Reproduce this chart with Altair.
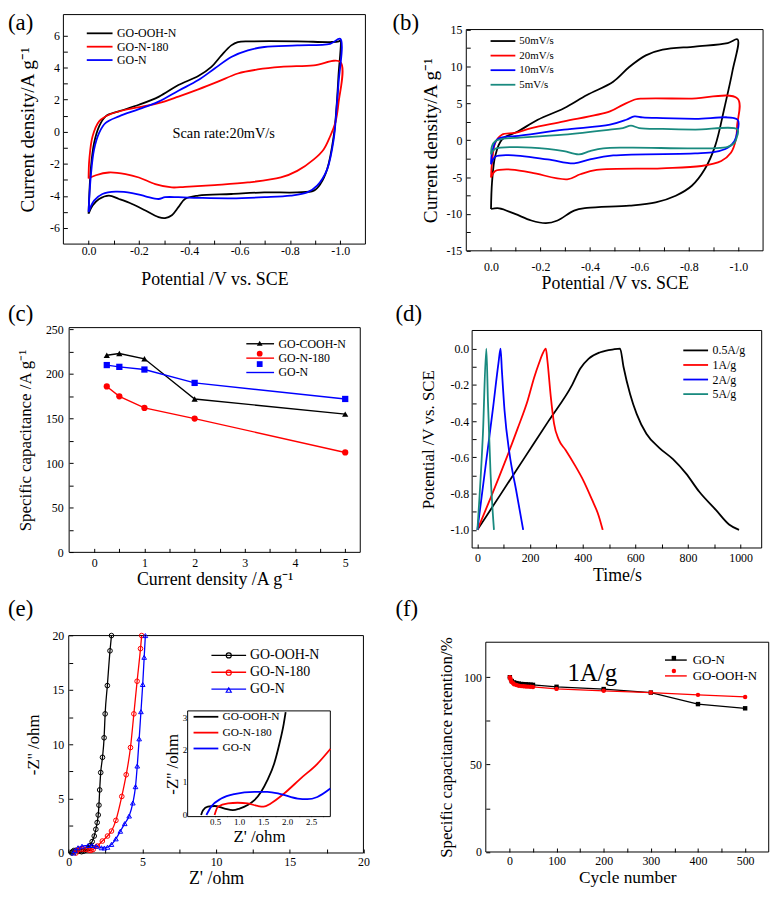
import math
import altair as alt
import pandas as pd

FONT = "Liberation Serif"
CW, CH = 769, 882
TICK = 4
BLACK, RED, BLUE, TEAL = "#000000", "#ff0000", "#0000ff", "#198a7f"

# ======================= data =======================
# (a) CV at 20 mV/s, potential (V vs SCE) / current density (A/g), traced round each loop
a_names = ["GO-OOH-N", "GO-N-180", "GO-N"]
a_ooh_v = [0.0, -0.009, -0.022, -0.042, -0.068, -0.12, -0.2, -0.28, -0.357, -0.436, -0.488, -0.528, -0.567, -0.593, -0.646, -0.83, -0.96, -0.994, -1.0,
           -0.993, -0.985, -0.974, -0.948, -0.921, -0.895, -0.829, -0.698, -0.567, -0.436, -0.383, -0.357, -0.331, -0.304, -0.278, -0.226, -0.173, -0.121, -0.081, -0.042, -0.016, 0.0]
a_ooh_i = [-5.11, -2.3, -0.7, 0.34, 0.96, 1.27, 1.68, 2.19, 2.91, 3.47, 4.04, 4.76, 5.38, 5.59, 5.63, 5.63, 5.59, 5.63, 5.69,
           3.5, 1.5, -0.28, -2.34, -3.26, -3.67, -3.78, -3.78, -3.88, -3.98, -4.19, -4.7, -5.2, -5.38, -5.32, -4.91, -4.5, -4.19, -3.98, -4.19, -4.6, -5.11]
a_n180_v = [0.0, -0.003, -0.016, -0.042, -0.081, -0.147, -0.213, -0.278, -0.357, -0.436, -0.514, -0.593, -0.672, -0.764, -0.895, -1.0,
            -0.993, -0.98, -0.96, -0.934, -0.895, -0.829, -0.764, -0.633, -0.501, -0.383, -0.331, -0.265, -0.2, -0.147, -0.081, -0.029, 0.0]
a_n180_i = [-2.91, -1.72, -0.28, 0.65, 1.06, 1.37, 1.57, 1.78, 2.19, 2.64, 3.12, 3.63, 3.88, 4.04, 4.14, 4.35,
            1.78, 0.54, -0.28, -1.1, -1.72, -2.44, -2.85, -3.16, -3.32, -3.43, -3.47, -3.26, -2.85, -2.64, -2.54, -2.71, -2.91]
a_n_v = [0.0, -0.009, -0.022, -0.042, -0.068, -0.121, -0.2, -0.278, -0.357, -0.436, -0.501, -0.567, -0.633, -0.698, -0.829, -0.96, -1.0,
         -0.993, -0.987, -0.974, -0.948, -0.908, -0.869, -0.803, -0.698, -0.567, -0.436, -0.357, -0.304, -0.278, -0.226, -0.173, -0.108, -0.055, -0.022, 0.0]
a_n_i = [-4.97, -2.75, -1.1, -0.07, 0.55, 0.96, 1.41, 1.88, 2.56, 3.22, 3.94, 4.66, 5.07, 5.28, 5.38, 5.48, 5.79,
         3.0, 1.78, -0.48, -2.34, -3.36, -3.78, -3.98, -4.08, -4.15, -4.12, -4.08, -4.08, -4.19, -4.02, -3.82, -3.73, -3.88, -4.29, -5.01]
a_note_text = ["Scan rate:20mV/s"]
a_note_v = [-0.537]
a_note_i = [-0.17]

# (b) CV of GO-OOH-N at several scan rates
b_names = ["50mV/s", "20mV/s", "10mV/s", "5mV/s"]
b_50_v = [0.0, -0.004, -0.017, -0.044, -0.11, -0.189, -0.295, -0.388, -0.494, -0.56, -0.626, -0.694, -0.825, -0.957, -0.997,
          -0.977, -0.945, -0.906, -0.864, -0.812, -0.747, -0.666, -0.56, -0.388, -0.336, -0.269, -0.222, -0.163, -0.097, -0.033, 0.0]
b_50_i = [-9.33, -5.74, -2.15, 0.08, 1.21, 2.77, 4.34, 6.13, 7.93, 9.95, 11.5, 12.27, 12.7, 13.17, 13.66,
          9.49, 4.57, -0.81, -3.95, -6.18, -7.53, -8.43, -8.87, -9.19, -9.54, -10.89, -11.25, -10.89, -10.0, -9.24, -9.33]
b_20_v = [0.0, -0.004, -0.017, -0.044, -0.097, -0.163, -0.295, -0.481, -0.533, -0.586, -0.613, -0.8, -0.997,
          -0.995, -0.99, -0.97, -0.931, -0.851, -0.69, -0.427, -0.361, -0.308, -0.163, -0.07, -0.017, 0.0]
b_20_i = [-5.07, -3.05, -0.36, 0.75, 0.98, 1.65, 2.55, 3.9, 4.79, 5.55, 5.64, 5.64, 5.64,
          2.0, 0.08, -1.71, -2.82, -3.5, -3.81, -4.03, -4.62, -5.3, -4.4, -3.95, -4.17, -5.07]
b_10_v = [0.0, -0.004, -0.024, -0.057, -0.097, -0.295, -0.481, -0.547, -0.58, -0.613, -0.694, -0.825, -0.997,
          -0.995, -0.984, -0.957, -0.905, -0.825, -0.494, -0.4, -0.336, -0.229, -0.07, -0.017, 0.0]
b_10_i = [-3.28, -1.71, 0.08, 0.45, 0.54, 1.43, 2.1, 2.77, 3.22, 3.09, 3.0, 2.9, 2.77,
          1.0, -0.14, -1.03, -1.6, -1.8, -2.07, -2.6, -3.14, -2.6, -2.02, -2.25, -3.28]
b_5_v = [0.0, -0.004, -0.017, -0.05, -0.097, -0.295, -0.481, -0.533, -0.566, -0.599, -0.694, -0.825, -0.997,
         -0.993, -0.984, -0.957, -0.56, -0.454, -0.4, -0.355, -0.295, -0.229, -0.097, -0.017, 0.0]
b_5_i = [-1.93, -0.8, -0.14, 0.2, 0.31, 0.76, 1.43, 1.65, 1.96, 1.65, 1.52, 1.43, 1.43,
         0.3, -0.36, -0.9, -1.0, -1.1, -1.48, -1.93, -1.48, -1.17, -0.94, -1.17, -1.93]

# (c) specific capacitance vs current density
c_names = ["GO-COOH-N", "GO-N-180", "GO-N"]
c_density = [0.25, 0.5, 1, 2, 5]
c_cooh = [221, 223, 217, 172, 155]
c_n180 = [186, 175, 162, 150, 112]
c_n = [210, 208, 205, 190, 172]

# (d) galvanostatic charge / discharge
d_names = ["0.5A/g", "1A/g", "2A/g", "5A/g"]
d_05_t = [0, 90, 180, 270, 360, 391, 423, 467, 517, 542, 555, 580, 605, 642, 693, 743, 793, 843, 906, 956, 994]
d_05_v = [-1.0, -0.80, -0.60, -0.40, -0.20, -0.11, -0.055, -0.02, -0.004, 0.0, -0.10, -0.25, -0.36, -0.47, -0.55, -0.61, -0.69, -0.79, -0.89, -0.97, -1.0]
d_1_t = [0, 53, 103, 153, 191, 216, 235, 247, 260, 266, 279, 291, 310, 335, 373, 404, 435, 461, 476]
d_1_v = [-1.0, -0.814, -0.632, -0.44, -0.286, -0.158, -0.077, -0.031, 0.0, -0.067, -0.268, -0.413, -0.505, -0.559, -0.65, -0.732, -0.832, -0.923, -1.0]
d_2_t = [0, 30, 60, 80, 88, 93, 103, 122, 147, 174]
d_2_v = [-1.0, -0.66, -0.32, -0.08, 0.0, -0.12, -0.34, -0.58, -0.78, -1.0]
d_5_t = [0, 21, 34, 40, 50, 63]
d_5_v = [-1.0, -0.47, 0.0, -0.29, -0.69, -1.0]

# (e) Nyquist plots, main and inset
e_names = ["GO-OOH-N", "GO-N-180", "GO-N"]
e_ooh_x = [0.21, 0.25, 0.35, 0.49, 0.70, 0.87, 1.01, 1.18, 1.32, 1.46, 1.59, 1.73, 1.84, 1.93, 2.0, 2.05, 2.1, 2.17, 2.29, 2.4, 2.47, 2.62, 2.8, 2.9]
e_ooh_y = [0.0, 0.12, 0.23, 0.25, 0.17, 0.12, 0.17, 0.28, 0.43, 0.69, 1.05, 1.56, 2.18, 2.8, 3.5, 4.4, 5.8, 7.4, 8.8, 10.6, 12.8, 15.4, 18.6, 20.0]
e_n180_x = [0.49, 0.56, 0.77, 0.97, 1.18, 1.39, 1.51, 1.66, 1.94, 2.28, 2.63, 2.9, 3.2, 3.6, 3.9, 4.19, 4.42, 4.64, 4.87, 4.95]
e_n180_y = [0.0, 0.23, 0.33, 0.35, 0.33, 0.25, 0.23, 0.33, 0.64, 1.10, 1.56, 2.02, 3.0, 5.2, 7.2, 9.7, 12.8, 15.8, 18.8, 20.0]
e_n_x = [0.32, 0.42, 0.63, 0.90, 1.32, 1.59, 1.87, 2.22, 2.42, 2.63, 2.9, 3.2, 3.5, 3.8, 4.1, 4.35, 4.53, 4.65, 4.78, 4.9, 5.02, 5.12, 5.2]
e_n_y = [0.0, 0.23, 0.48, 0.62, 0.69, 0.69, 0.62, 0.48, 0.46, 0.53, 0.79, 1.3, 2.0, 2.7, 3.4, 4.6, 6.1, 8.0, 10.5, 13.0, 15.5, 18.0, 20.0]
ei_ooh_x = [0.21, 0.25, 0.35, 0.49, 0.70, 0.87, 1.01, 1.18, 1.32, 1.46, 1.59, 1.73, 1.84, 1.93, 1.97]
ei_ooh_y = [-0.03, 0.12, 0.23, 0.25, 0.17, 0.12, 0.17, 0.28, 0.43, 0.69, 1.05, 1.56, 2.18, 2.8, 3.16]
ei_n180_x = [0.49, 0.56, 0.77, 0.97, 1.18, 1.39, 1.51, 1.66, 1.94, 2.28, 2.63, 2.9]
ei_n180_y = [-0.03, 0.23, 0.33, 0.35, 0.33, 0.25, 0.23, 0.33, 0.64, 1.10, 1.56, 2.02]
ei_n_x = [0.32, 0.42, 0.63, 0.90, 1.32, 1.59, 1.87, 2.22, 2.42, 2.63, 2.9]
ei_n_y = [-0.03, 0.23, 0.48, 0.62, 0.69, 0.69, 0.62, 0.48, 0.46, 0.53, 0.79]

# (f) cycling stability at 1 A/g
f_names = ["GO-N", "GO-OOH-N"]
f_goN_cyc = [1, 5, 10, 15, 20, 25, 30, 35, 40, 45, 50, 100, 200, 300, 400, 500]
f_goN_ret = [100, 97.8, 97, 96.6, 96.3, 96.1, 96, 95.9, 95.8, 95.7, 95.6, 94.5, 93.2, 91.2, 84.6, 82.2]
f_ooh_cyc = [1, 2, 3, 5, 8, 10, 15, 20, 25, 30, 35, 40, 45, 50, 100, 200, 300, 400, 500]
f_ooh_ret = [100, 99.2, 98.4, 97.3, 96.5, 96, 95.5, 95.1, 94.9, 94.8, 94.7, 94.6, 94.5, 94.4, 93.3, 92.2, 91.2, 89.9, 88.7]
f_note_text = ["1A/g"]
f_note_x = [176]
f_note_y = [102.4]

# tick values and labels
a_xticks = [0.0, -0.1, -0.2, -0.3, -0.4, -0.5, -0.6, -0.7, -0.8, -0.9, -1.0]
a_xmaj = [0.0, -0.2, -0.4, -0.6, -0.8, -1.0]
a_xlab = ["0.0", "-0.2", "-0.4", "-0.6", "-0.8", "-1.0"]
a_yticks = [-6, -5, -4, -3, -2, -1, 0, 1, 2, 3, 4, 5, 6]
a_ymaj = [-6, -4, -2, 0, 2, 4, 6]
a_ylab = ["-6", "-4", "-2", "0", "2", "4", "6"]
b_yticks = [-15, -12.5, -10, -7.5, -5, -2.5, 0, 2.5, 5, 7.5, 10, 12.5, 15]
b_ymaj = [-15, -10, -5, 0, 5, 10, 15]
b_ylab = ["-15", "-10", "-5", "0", "5", "10", "15"]
c_xticks = [0, 0.5, 1, 1.5, 2, 2.5, 3, 3.5, 4, 4.5, 5]
c_xmaj = [0, 1, 2, 3, 4, 5]
c_xlab = ["0", "1", "2", "3", "4", "5"]
c_yticks = [0, 25, 50, 75, 100, 125, 150, 175, 200, 225, 250]
c_ymaj = [0, 50, 100, 150, 200, 250]
c_ylab = ["0", "50", "100", "150", "200", "250"]
d_xticks = [0, 100, 200, 300, 400, 500, 600, 700, 800, 900, 1000]
d_xmaj = [0, 200, 400, 600, 800, 1000]
d_xlab = ["0", "200", "400", "600", "800", "1000"]
d_yticks = [0.0, -0.1, -0.2, -0.3, -0.4, -0.5, -0.6, -0.7, -0.8, -0.9, -1.0]
d_ymaj = [0.0, -0.2, -0.4, -0.6, -0.8, -1.0]
d_ylab = ["0.0", "-0.2", "-0.4", "-0.6", "-0.8", "-1.0"]
e_ticks = [0, 2.5, 5, 7.5, 10, 12.5, 15, 17.5, 20]
e_maj = [0, 5, 10, 15, 20]
e_lab = ["0", "5", "10", "15", "20"]
ei_xticks = [0.5, 0.75, 1.0, 1.25, 1.5, 1.75, 2.0, 2.25, 2.5, 2.75]
ei_xmaj = [0.5, 1.0, 1.5, 2.0, 2.5]
ei_xlab = ["0.5", "1.0", "1.5", "2.0", "2.5"]
ei_yticks = [0, 0.5, 1, 1.5, 2, 2.5, 3]
ei_ymaj = [0, 1, 2, 3]
ei_ylab = ["0", "1", "2", "3"]
f_xticks = [0, 50, 100, 150, 200, 250, 300, 350, 400, 450, 500]
f_xmaj = [0, 100, 200, 300, 400, 500]
f_xlab = ["0", "100", "200", "300", "400", "500"]
f_yticks = [0, 25, 50, 75, 100]
f_ymaj = [0, 50, 100]
f_ylab = ["0", "50", "100"]

# ======================= layout (pixels) =======================
# panel boxes: left, right, top, bottom
BOX = {
    "a": (55.9, 360.7, 2.6, 234.2),
    "b": (462.5, 762.0, 17.7, 241.0),
    "c": (61.7, 355.5, 318.5, 545.3),
    "d": (468.4, 760.6, 321.4, 540.9),
    "e": (61.3, 358.7, 629.3, 848.7),
    "ei": (181.3, 325.3, 705.3, 812.0),
    "f": (482.2, 767.7, 636.0, 847.7),
}
DOM = {
    "a": ([-1.1, 0.1], [-7, 7.3]),
    "b": ([-1.1, 0.1], [-15, 15]),
    "c": ([-0.5, 5.3], [0, 252]),
    "d": ([-20, 1080], [-1.1, 0.1]),
    "e": ([0, 20], [0, 20]),
    "ei": ([-0.07, 2.9], [-0.08, 3.2]),
    "f": ([-50, 550], [0, 120]),
}
letters = ["(a)", "(b)", "(c)", "(d)", "(e)", "(f)"]
letters_px = [0, 388, 0, 391, 0, 391]
letters_py = [18, 18, 312, 312, 610, 610]


# ======================= helpers =======================
def lab_expr(majors, labels):
    expr = "''"
    for v, l in zip(reversed(majors), reversed(labels)):
        expr = f"abs(datum.value - ({v})) < 1e-6 ? '{l}' : {expr}"
    return expr


def ax_common(values, majors, labels, title, lp, tp, tfs, lfs, tick):
    return dict(values=values, tickSize=tick, tickColor="black", tickWidth=1, domain=False, grid=False,
                labelExpr=lab_expr(majors, labels), labelFont=FONT, labelFontSize=lfs, labelColor="black",
                labelPadding=lp, labelFlush=False, labelOverlap=False, title=title, titleFont=FONT,
                titleFontSize=tfs, titleFontWeight="normal", titleColor="black", titlePadding=tp)


def xaxis(p, values, majors, labels, title, lp, tp, tfs=18, lfs=12, tick=TICK):
    return alt.Axis(orient="bottom", offset=BOX[p][3] - CH - tick,
                    **ax_common(values, majors, labels, title, lp, tp, tfs, lfs, tick))


def yaxis(p, values, majors, labels, title, lp, tp, tfs=18, lfs=12, tick=TICK):
    return alt.Axis(orient="left", offset=-(BOX[p][0] + tick),
                    **ax_common(values, majors, labels, title, lp, tp, tfs, lfs, tick))


def xs(p, rev=False):
    b = BOX[p]
    rng = [b[1], b[0]] if rev else [b[0], b[1]]
    return alt.Scale(domain=DOM[p][0], range=rng, nice=False, zero=False)


def ys(p):
    b = BOX[p]
    return alt.Scale(domain=DOM[p][1], range=[b[3], b[2]], nice=False, zero=False)


LEG_PATH = "M-3,0H3"   # a flat stroke three times as long as the nominal symbol size


def legend(x_left, first_row, L, fs, spacing, sw=1.8):
    nominal = L / 3.0
    size = math.ceil(nominal + sw)
    row_h = max(fs, size / 2 + fs / 2)
    return alt.Legend(orient="none", legendX=x_left + L / 2 - size / 2, legendY=first_row - size / 2 - 1,
                      title=None, symbolType=LEG_PATH, symbolSize=nominal * nominal, symbolStrokeWidth=sw,
                      labelFont=FONT, labelFontSize=fs, labelColor="black",
                      labelOffset=L / 2 - size / 2 + 4, rowPadding=max(0, spacing - row_h), padding=0)


def marker_legend(x_left, first_row, L, spacing, msize, sw, row_h):
    # markers only (empty labels), centred on the middle of the line symbols
    size = math.ceil(math.sqrt(msize) + sw)
    return alt.Legend(orient="none", legendX=x_left + L / 2 - size / 2, legendY=first_row - size / 2 - 1,
                      title=None, symbolSize=msize, symbolStrokeWidth=sw, labelExpr="''", labelFontSize=1,
                      labelOffset=0, rowPadding=max(0, spacing - row_h), padding=0)


def long_df(names, xl, yl):
    rows = []
    for n, xv, yv in zip(names, xl, yl):
        assert len(xv) == len(yv), n
        for k, (a, b) in enumerate(zip(xv, yv)):
            rows.append({"s": n, "i": k, "x": a, "y": b})
    return pd.DataFrame(rows)


def frame(p, rev=False, fill="transparent"):
    d = pd.DataFrame({"x1": [DOM[p][0][0]], "x2": [DOM[p][0][1]], "y1": [DOM[p][1][0]], "y2": [DOM[p][1][1]]})
    return alt.Chart(d).mark_rect(fill=fill, stroke="black", strokeWidth=1).encode(
        x=alt.X("x1:Q", scale=xs(p, rev)), x2="x2:Q",
        y=alt.Y("y1:Q", scale=ys(p)), y2="y2:Q")


def lines(p, df, names, colors, leg, xa, ya, interp="linear", sw=1.5, rev=False):
    return alt.Chart(df).mark_line(interpolate=interp, strokeWidth=sw).encode(
        x=alt.X("x:Q", scale=xs(p, rev), axis=xa),
        y=alt.Y("y:Q", scale=ys(p), axis=ya),
        color=alt.Color("s:N", scale=alt.Scale(domain=names, range=colors), legend=leg),
        order=alt.Order("i:Q"))


def points(p, df, names, colors, shapes, size, filled, sw=1.0):
    layers = []
    for n, c, s in zip(names, colors, shapes):
        layers.append(
            alt.Chart(df).transform_filter(alt.datum.s == n).mark_point(
                filled=filled, size=size, opacity=1, strokeWidth=sw, shape=s, color=c).encode(
                x=alt.X("x:Q", scale=xs(p)), y=alt.Y("y:Q", scale=ys(p))))
    return layers


def legend_markers(p, df, names, colors, shapes, leg_args, filled):
    leg = marker_legend(*leg_args)
    keys = [n + " " for n in names]   # own domain, so this legend stays apart from the line legend
    paint = alt.Fill if filled else alt.Stroke
    return alt.Chart(df).transform_filter("false").mark_point(filled=filled, opacity=1).encode(
        x=alt.X("x:Q", scale=xs(p)), y=alt.Y("y:Q", scale=ys(p)),
        **{"fill" if filled else "stroke": paint("s:N", scale=alt.Scale(domain=keys, range=colors), legend=leg)},
        shape=alt.Shape("s:N", scale=alt.Scale(domain=keys, range=shapes), legend=leg))


def note(p, texts, xv, yv, fs, rev=False):
    d = pd.DataFrame({"t": texts, "x": xv, "y": yv})
    return alt.Chart(d).mark_text(font=FONT, fontSize=fs, color="black", align="center", baseline="middle").encode(
        x=alt.X("x:Q", scale=xs(p, rev)), y=alt.Y("y:Q", scale=ys(p)), text="t:N")


CUR = "Current density/A g\u207b\u00b9"
POT = "Potential /V vs. SCE"

# ----- (a)
a_df = long_df(a_names, [a_ooh_v, a_n180_v, a_n_v], [a_ooh_i, a_n180_i, a_n_i])
panel_a = alt.layer(
    lines("a", a_df, a_names, [BLACK, RED, BLUE], legend(79, 22, 26, 12, 13.5),
          xaxis("a", a_xticks, a_xmaj, a_xlab, POT, 2, 14),
          yaxis("a", a_yticks, a_ymaj, a_ylab, CUR, 4, 12, tfs=19.5),
          interp="catmull-rom", sw=1.8, rev=True),
    frame("a", rev=True),
    note("a", a_note_text, a_note_v, a_note_i, 14.5, rev=True),
)

# ----- (b)
b_df = long_df(b_names, [b_50_v, b_20_v, b_10_v, b_5_v], [b_50_i, b_20_i, b_10_i, b_5_i])
panel_b = alt.layer(
    lines("b", b_df, b_names, [BLACK, RED, BLUE, TEAL], legend(487, 30.3, 25, 11, 13.7),
          xaxis("b", a_xticks, a_xmaj, a_xlab, POT, 11, 2),
          yaxis("b", b_yticks, b_ymaj, b_ylab, CUR, 4.5, 6, tfs=19.5),
          interp="catmull-rom", sw=1.8, rev=True),
    frame("b", rev=True),
)

# ----- (c)
c_df = long_df(c_names, [c_density] * 3, [c_cooh, c_n180, c_n])
c_shapes = ["triangle-up", "circle", "square"]
panel_c = alt.layer(
    lines("c", c_df, c_names, [BLACK, RED, BLUE], legend(240, 335.3, 28, 12, 14.5, sw=1.4),
          xaxis("c", c_xticks, c_xmaj, c_xlab, "Current density /A g\u207b\u00b9", 5, 2),
          yaxis("c", c_yticks, c_ymaj, c_ylab, "Specific capacitance /A g\u207b\u00b9", 6, 11, tfs=17),
          sw=1.4),
    frame("c"),
    *points("c", c_df, c_names, [BLACK, RED, BLUE], c_shapes, 40, True),
    legend_markers("c", c_df, c_names, [BLACK, RED, BLUE], c_shapes, (240, 335.3, 28, 14.5, 34, 0, 10), True),
)

# ----- (d)
d_df = long_df(d_names, [d_05_t, d_1_t, d_2_t, d_5_t], [d_05_v, d_1_v, d_2_v, d_5_v])
panel_d = alt.layer(
    lines("d", d_df, d_names, [BLACK, RED, BLUE, TEAL], legend(681, 342, 25, 12, 14.7),
          xaxis("d", d_xticks, d_xmaj, d_xlab, "Time/s", 5, 3),
          yaxis("d", d_yticks, d_ymaj, d_ylab, POT, 3.4, 13, tfs=17),
          interp="monotone", sw=1.8),
    frame("d"),
)

# ----- (e)
e_df = long_df(e_names, [e_ooh_x, e_n180_x, e_n_x], [e_ooh_y, e_n180_y, e_n_y])
ei_df = long_df(e_names, [ei_ooh_x, ei_n180_x, ei_n_x], [ei_ooh_y, ei_n180_y, ei_n_y])
e_shapes = ["circle", "circle", "triangle-up"]
e_main = alt.layer(
    lines("e", e_df, e_names, [BLACK, RED, BLUE], legend(205.3, 650.3, 35, 14, 17, sw=1.4),
          xaxis("e", e_ticks, e_maj, e_lab, "Z' /ohm", 4, 2),
          yaxis("e", e_ticks, e_maj, e_lab, "-Z'' /ohm", 5, 10, tfs=17),
          interp="monotone", sw=1.3),
    frame("e"),
    *points("e", e_df, e_names, [BLACK, RED, BLUE], e_shapes, 22, False),
    legend_markers("e", e_df, e_names, [BLACK, RED, BLUE], e_shapes, (205.3, 650.3, 35, 17, 26, 1.2, 10.5), False),
)
e_inset = alt.layer(
    frame("ei", fill="white"),
    lines("ei", ei_df, e_names, [BLACK, RED, BLUE], legend(187, 712, 25, 11.5, 14.5),
          xaxis("ei", ei_xticks, ei_xmaj, ei_xlab, "Z' /ohm", 1, 2, tfs=17, lfs=9, tick=3),
          yaxis("ei", ei_yticks, ei_ymaj, ei_ylab, "-Z'' /ohm", 1, 1, tfs=17, lfs=9, tick=3),
          interp="monotone", sw=1.8),
)
panel_e = alt.layer(e_main, e_inset).resolve_scale(x="independent", y="independent", color="independent",
                                                   stroke="independent", shape="independent")

# ----- (f)
f_df = long_df(f_names, [f_goN_cyc, f_ooh_cyc], [f_goN_ret, f_ooh_ret])
f_shapes = ["square", "circle"]
panel_f = alt.layer(
    lines("f", f_df, f_names, [BLACK, RED], legend(661, 653, 22, 13, 15, sw=1.4),
          xaxis("f", f_xticks, f_xmaj, f_xlab, "Cycle number", 4, 2, tfs=17.5),
          yaxis("f", f_yticks, f_ymaj, f_ylab, "Specific capacitance retention/%", 4.5, 8.5, tfs=17),
          sw=1.3),
    frame("f"),
    *points("f", f_df, f_names, [BLACK, RED], f_shapes, 20, True),
    legend_markers("f", f_df, f_names, [BLACK, RED], f_shapes, (661, 653, 22, 15, 20, 0, 7), True),
    note("f", f_note_text, f_note_x, f_note_y, 25),
)

# ----- panel letters
lt_df = pd.DataFrame({"t": letters, "px": letters_px, "py": letters_py})
letter_layer = alt.Chart(lt_df).mark_text(font=FONT, fontSize=23, color="black", align="left",
                                          baseline="alphabetic").encode(
    x=alt.X("px:Q", scale=None), y=alt.Y("py:Q", scale=None), text="t:N")

chart = alt.layer(panel_a, panel_b, panel_c, panel_d, panel_e, panel_f, letter_layer).resolve_scale(
    x="independent", y="independent", color="independent", fill="independent",
    stroke="independent", shape="independent"
).properties(
    width=CW, height=CH, padding=0, autosize=alt.AutoSizeParams(type="none"), background="white"
).configure_view(stroke="transparent")

chart.save("out.html", embed_options={"renderer": "svg", "actions": False})
